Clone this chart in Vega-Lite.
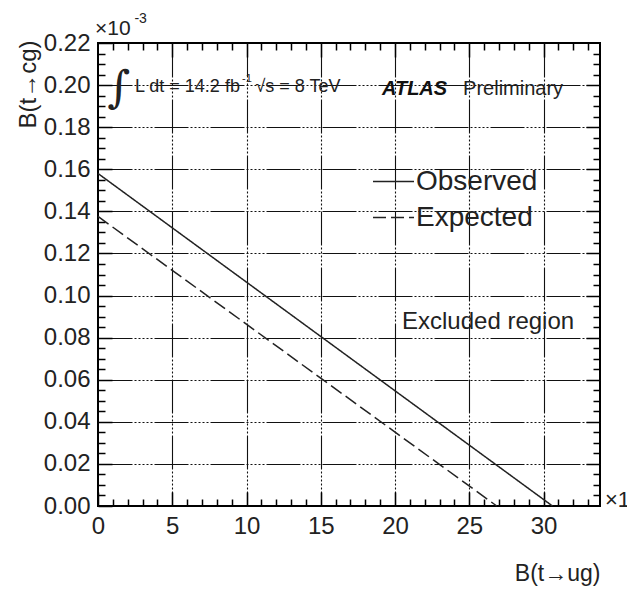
{
  "$schema": "https://vega.github.io/schema/vega-lite/v6.json",
  "width": 502,
  "height": 463,
  "autosize": {"type": "none"},
  "padding": {"left": 98, "top": 43, "right": 27, "bottom": 83},
  "background": "white",
  "config": {
    "font": "Liberation Sans",
    "view": {"stroke": "black", "strokeWidth": 2},
    "axis": {"labelFlush": false, "labelOverlap": false, "tickColor": "black", "tickWidth": 1.5, "labelColor": "#222", "titleColor": "#222", "titleFontWeight": "normal"}
  },
  "datasets": {
    "limits": [
      {"series": "Observed", "ug": 0, "cg": 0.158},
      {"series": "Observed", "ug": 30.6, "cg": 0},
      {"series": "Expected", "ug": 0, "cg": 0.1376},
      {"series": "Expected", "ug": 26.85, "cg": 0}
    ],
    "one": [{"note": "annotation"}]
  },
  "data": {"name": "limits"},
  "resolve": {"axis": {"x": "independent", "y": "independent"}},
  "layer": [
    {
      "mark": {"type": "point", "opacity": 0},
      "encoding": {
        "x": {"field": "ug", "type": "quantitative", "scale": {"domain": [0, 33.8], "nice": false, "zero": false},
          "axis": {"orient": "bottom", "grid": true, "gridColor": "#111", "gridWidth": 1.1, "gridDash": [34, 2, 2, 2, 2, 2, 2, 2, 2, 2, 2, 2], "values": [5, 10, 15, 20, 25, 30], "ticks": false, "labels": false, "domain": false, "title": null}},
        "y": {"field": "cg", "type": "quantitative", "scale": {"domain": [0, 0.22], "nice": false},
          "axis": {"orient": "left", "grid": true, "gridColor": "#111", "gridWidth": 1.1, "gridDash": [34, 2, 2, 2, 2, 2, 2, 2, 2, 2, 2, 2], "values": [0.02, 0.04, 0.06, 0.08, 0.1, 0.12, 0.14, 0.16, 0.18, 0.2], "ticks": false, "labels": false, "domain": false, "title": null}}
      }
    },
    {
      "mark": {"type": "line", "color": "#222", "strokeWidth": 1.5},
      "encoding": {
        "x": {"field": "ug", "type": "quantitative", "scale": {"domain": [0, 33.8], "nice": false, "zero": false},
          "axis": {"orient": "bottom", "offset": -14, "tickSize": 14, "values": [0, 5, 10, 15, 20, 25, 30], "format": "d", "labelFontSize": 24, "labelPadding": 8, "domain": false, "grid": false,
            "title": "B(t→ug)", "titleFontSize": 23, "titleX": 502, "titleY": 81, "titleAlign": "right", "titleBaseline": "middle", "titleAnchor": "end"}},
        "y": {"field": "cg", "type": "quantitative", "scale": {"domain": [0, 0.22], "nice": false},
          "axis": {"orient": "left", "offset": -14, "tickSize": 14, "values": [0, 0.02, 0.04, 0.06, 0.08, 0.1, 0.12, 0.14, 0.16, 0.18, 0.2, 0.22], "format": ".2f", "labelFontSize": 24, "labelPadding": 8, "domain": false, "grid": false,
            "title": "B(t→cg)", "titleFontSize": 24, "titleX": -84, "titleY": -3, "titleAngle": 270, "titleAlign": "right", "titleBaseline": "middle", "titleAnchor": "end"}},
        "detail": {"field": "series"},
        "strokeDash": {"field": "series", "type": "nominal",
          "scale": {"domain": ["Observed", "Expected"], "range": [[1, 0], [13, 5]]},
          "legend": {"orient": "none", "legendX": 274, "legendY": 117, "title": null, "symbolType": "stroke", "symbolSize": 1681, "symbolStrokeWidth": 1.5, "symbolStrokeColor": "#222", "labelFontSize": 28, "labelOffset": 1, "rowPadding": 0, "padding": 0, "labelColor": "#222"}}
      }
    },
    {
      "mark": {"type": "point", "opacity": 0},
      "encoding": {
        "x": {"field": "ug", "type": "quantitative", "scale": {"domain": [0, 33.8], "nice": false, "zero": false},
          "axis": {"orient": "bottom", "offset": -7, "tickSize": 7, "values": [1, 2, 3, 4, 6, 7, 8, 9, 11, 12, 13, 14, 16, 17, 18, 19, 21, 22, 23, 24, 26, 27, 28, 29, 31, 32, 33], "labels": false, "domain": false, "grid": false, "title": null}},
        "y": {"field": "cg", "type": "quantitative", "scale": {"domain": [0, 0.22], "nice": false},
          "axis": {"orient": "left", "offset": -7, "tickSize": 7, "values": [0.005, 0.01, 0.015, 0.025, 0.03, 0.035, 0.045, 0.05, 0.055, 0.065, 0.07, 0.075, 0.085, 0.09, 0.095, 0.105, 0.11, 0.115, 0.125, 0.13, 0.135, 0.145, 0.15, 0.155, 0.165, 0.17, 0.175, 0.185, 0.19, 0.195, 0.205, 0.21, 0.215], "labels": false, "domain": false, "grid": false, "title": null}}
      }
    },
    {
      "mark": {"type": "point", "opacity": 0},
      "encoding": {
        "x": {"field": "ug", "type": "quantitative", "scale": {"domain": [0, 33.8], "nice": false, "zero": false},
          "axis": {"orient": "top", "offset": -14, "tickSize": 14, "values": [5, 10, 15, 20, 25, 30], "labels": false, "domain": false, "grid": false, "title": null}},
        "y": {"field": "cg", "type": "quantitative", "scale": {"domain": [0, 0.22], "nice": false},
          "axis": {"orient": "right", "offset": -14, "tickSize": 14, "values": [0.02, 0.04, 0.06, 0.08, 0.1, 0.12, 0.14, 0.16, 0.18, 0.2], "labels": false, "domain": false, "grid": false, "title": null}}
      }
    },
    {
      "mark": {"type": "point", "opacity": 0},
      "encoding": {
        "x": {"field": "ug", "type": "quantitative", "scale": {"domain": [0, 33.8], "nice": false, "zero": false},
          "axis": {"orient": "top", "offset": -7, "tickSize": 7, "values": [1, 2, 3, 4, 6, 7, 8, 9, 11, 12, 13, 14, 16, 17, 18, 19, 21, 22, 23, 24, 26, 27, 28, 29, 31, 32, 33], "labels": false, "domain": false, "grid": false, "title": null}},
        "y": {"field": "cg", "type": "quantitative", "scale": {"domain": [0, 0.22], "nice": false},
          "axis": {"orient": "right", "offset": -7, "tickSize": 7, "values": [0.005, 0.01, 0.015, 0.025, 0.03, 0.035, 0.045, 0.05, 0.055, 0.065, 0.07, 0.075, 0.085, 0.09, 0.095, 0.105, 0.11, 0.115, 0.125, 0.13, 0.135, 0.145, 0.15, 0.155, 0.165, 0.17, 0.175, 0.185, 0.19, 0.195, 0.205, 0.21, 0.215], "labels": false, "domain": false, "grid": false, "title": null}}
      }
    },
    {
      "data": {"name": "one"},
      "mark": {"type": "text", "text": "∫", "fontSize": 44, "font": "DejaVu Serif", "align": "center", "baseline": "middle", "color": "#222"},
      "encoding": {"x": {"datum": 1.41, "axis": null}, "y": {"datum": 0.198, "axis": null}}
    },
    {
      "data": {"name": "one"},
      "mark": {"type": "text", "text": "L dt = 14.2 fb", "fontSize": 18, "align": "left", "baseline": "alphabetic", "color": "#222"},
      "encoding": {"x": {"datum": 2.49, "axis": null}, "y": {"datum": 0.1967, "axis": null}}
    },
    {
      "data": {"name": "one"},
      "mark": {"type": "text", "text": "-1", "fontSize": 11, "align": "left", "baseline": "alphabetic", "color": "#222"},
      "encoding": {"x": {"datum": 9.7, "axis": null}, "y": {"datum": 0.2015, "axis": null}}
    },
    {
      "data": {"name": "one"},
      "mark": {"type": "text", "text": "√s = 8 TeV", "fontSize": 18, "align": "left", "baseline": "alphabetic", "color": "#222"},
      "encoding": {"x": {"datum": 10.6, "axis": null}, "y": {"datum": 0.1967, "axis": null}}
    },
    {
      "data": {"name": "one"},
      "mark": {"type": "text", "text": "ATLAS", "fontSize": 20, "fontWeight": "bold", "fontStyle": "italic", "align": "left", "baseline": "alphabetic", "color": "#111"},
      "encoding": {"x": {"datum": 19.12, "axis": null}, "y": {"datum": 0.1953, "axis": null}}
    },
    {
      "data": {"name": "one"},
      "mark": {"type": "text", "text": "Preliminary", "fontSize": 20, "align": "left", "baseline": "alphabetic", "color": "#222"},
      "encoding": {"x": {"datum": 24.58, "axis": null}, "y": {"datum": 0.1953, "axis": null}}
    },
    {
      "data": {"name": "one"},
      "mark": {"type": "text", "text": "Excluded region", "fontSize": 24, "align": "left", "baseline": "middle", "color": "#222"},
      "encoding": {"x": {"datum": 20.47, "axis": null}, "y": {"datum": 0.0876, "axis": null}}
    },
    {
      "data": {"name": "one"},
      "mark": {"type": "text", "text": "×10", "fontSize": 21, "align": "left", "baseline": "alphabetic", "dx": -3, "dy": -8, "color": "#222"},
      "encoding": {"x": {"datum": 0, "axis": null}, "y": {"datum": 0.22, "axis": null}}
    },
    {
      "data": {"name": "one"},
      "mark": {"type": "text", "text": "-3", "fontSize": 14, "align": "left", "baseline": "alphabetic", "dy": -20, "color": "#222"},
      "encoding": {"x": {"datum": 2.45, "axis": null}, "y": {"datum": 0.22, "axis": null}}
    },
    {
      "data": {"name": "one"},
      "mark": {"type": "text", "text": "×1", "fontSize": 22, "align": "left", "baseline": "middle", "dx": 5, "dy": -6, "color": "#222"},
      "encoding": {"x": {"datum": 33.8, "axis": null}, "y": {"datum": 0, "axis": null}}
    }
  ]
}
